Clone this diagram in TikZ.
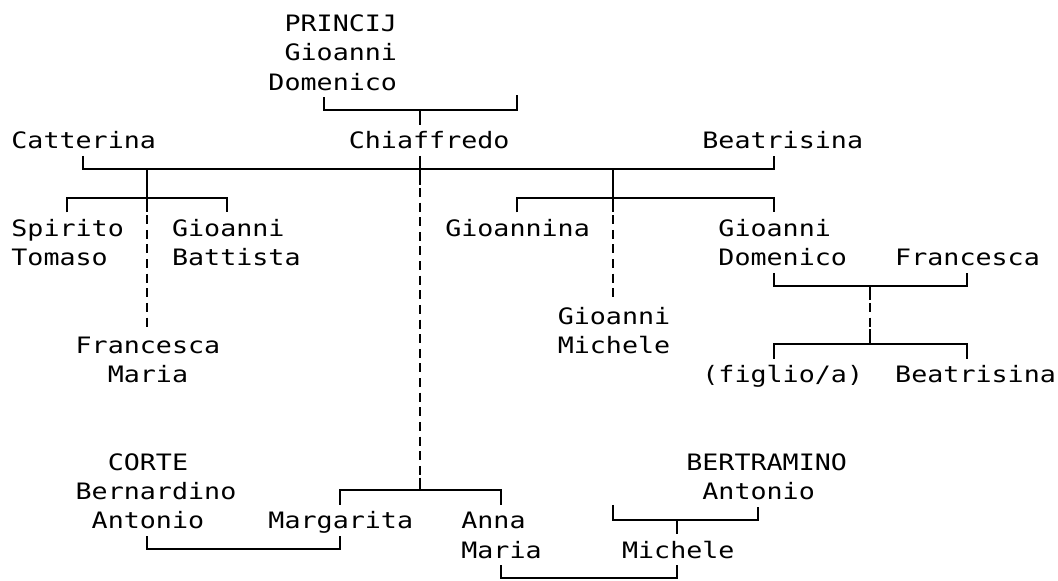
\documentclass[tikz,border=0pt]{standalone}
\usepackage{fontspec}
\usepackage{tikz}
\newfontfamily\treefont[FakeStretch=1.181]{DejaVu Sans Mono}
\newcommand\rs{\rule[-6.375pt]{0pt}{29.25pt}}
\newcommand\pad{\hphantom{x}}

\begin{document}
\begin{tikzpicture}[x=16.07pt, y=-29.25pt, line width=2pt,
    person/.style={inner sep=0pt, anchor=north west, align=left,
      font=\treefont\fontsize{22.6pt}{29.25pt}\selectfont},
    maybe/.style={dash pattern=on 9pt off 5.625pt, dash phase=11.8pt}]
  \useasboundingbox (-1.145,-0.761) rectangle (64.69,19.068);

  \node[person] (princ) at (15.5,-0.5) {\rs\pad PRINCIJ\\\rs\pad Gioanni\\\rs Domenico};
  \node[person] (catt) at (-0.5,3.5) {\rs Catterina};
  \node[person] (chiaf) at (20.5,3.5) {\rs Chiaffredo};
  \node[person] (beat) at (42.5,3.5) {\rs Beatrisina};
  \node[person] (spir) at (-0.5,6.5) {\rs Spirito\\\rs Tomaso};
  \node[person] (gbat) at (9.5,6.5) {\rs Gioanni\\\rs Battista};
  \node[person] (fmar) at (3.5,10.5) {\rs Francesca\\\rs\pad\pad Maria};
  \node[person] (gina) at (26.5,6.5) {\rs Gioannina};
  \node[person] (gmic) at (33.5,9.5) {\rs Gioanni\\\rs Michele};
  \node[person] (gdom) at (43.5,6.5) {\rs Gioanni\\\rs Domenico};
  \node[person] (fran) at (54.5,7.5) {\rs Francesca};
  \node[person] (figl) at (42.5,11.5) {\rs (figlio/a)};
  \node[person] (beat2) at (54.5,11.5) {\rs Beatrisina};
  \node[person] (corte) at (3.5,14.5) {\rs\pad\pad CORTE\\\rs Bernardino\\\rs\pad Antonio};
  \node[person] (marg) at (15.5,16.5) {\rs Margarita};
  \node[person] (anna) at (27.5,16.5) {\rs Anna\\\rs Maria};
  \node[person] (bert) at (41.5,14.5) {\rs BERTRAMINO\\\rs\pad Antonio};
  \node[person] (mich) at (37.5,17.5) {\rs Michele};

  % Gioanni Domenico
  \coordinate (a0) at (19,3);
  \coordinate (b0) at (25,3);
  \coordinate (c0) at (31,2.5);
  \draw (a0 |- princ.south) -- (a0) -- (c0 |- a0) -- (c0);
  \draw (b0) -- (b0 |- chiaf.north);

  % Chiaffredo
  \coordinate (a1) at (4,5);
  \coordinate (c1) at (47,5);
  \coordinate (d1) at (8,5);
  \coordinate (e1) at (37,5);
  \coordinate (b5) at (25,16);
  \draw (a1 |- catt.south) -- (a1) -- (c1) -- (c1 |- beat.south);
  \draw (b0 |- chiaf.south) -- ++(0,1) coordinate (b1x);
  \draw[maybe] (b1x) -- ++(0,10) coordinate (b5x);
  \draw (b5x) -- (b5);
  \draw (d1) -- ++(0,1.5) coordinate (d1x);
  \draw[maybe] (d1x) -- (d1x |- fmar.north);
  \draw (e1) -- ++(0,1.5) coordinate (e1x);
  \draw[maybe] (e1x) -- (e1x |- gmic.north);

  \coordinate (a2) at (3,6);
  \coordinate (c2) at (13,6);
  \draw (a2 |- spir.north) -- (a2) -- (c2) -- (c2 |- gbat.north);
  \coordinate (a3) at (31,6);
  \coordinate (c3) at (47,6);
  \draw (a3 |- gina.north) -- (a3) -- (c3) -- (c3 |- gdom.north);

  % Gioanni Domenico and Francesca
  \coordinate (a4) at (47,9);
  \coordinate (b4) at (53,9);
  \coordinate (c4) at (59,9);
  \coordinate (a5) at (47,11);
  \coordinate (c5) at (59,11);
  \draw (a4 |- gdom.south) -- (a4) -- (c4) -- (c4 |- fran.south);
  \draw (b4) -- ++(0,0.5) coordinate (b4x);
  \draw[maybe] (b4x) -- ++(0,1) coordinate (b4y);
  \draw (b4y) -- (b4y |- a5);
  \draw (a5 |- figl.north) -- (a5) -- (c5) -- (c5 |- beat2.north);

  % Margarita, Anna Maria
  \coordinate (a6) at (20,16);
  \coordinate (c6) at (30,16);
  \draw (a6 |- marg.north) -- (a6) -- (c6) -- (c6 |- anna.north);
  \coordinate (a7) at (8,18);
  \coordinate (c7) at (20,18);
  \draw (a7 |- corte.south) -- (a7) -- (c7) -- (c7 |- marg.south);
  \coordinate (a8) at (37,16.5);
  \coordinate (b8) at (41,17);
  \coordinate (c8) at (46,17);
  \draw (a8) -- (a8 |- c8) -- (c8) -- (c8 |- bert.south);
  \draw (b8) -- (b8 |- mich.north);
  \coordinate (a9) at (30,19);
  \coordinate (c9) at (41,19);
  \draw (a9 |- anna.south) -- (a9) -- (c9) -- (c9 |- mich.south);
\end{tikzpicture}
\end{document}
